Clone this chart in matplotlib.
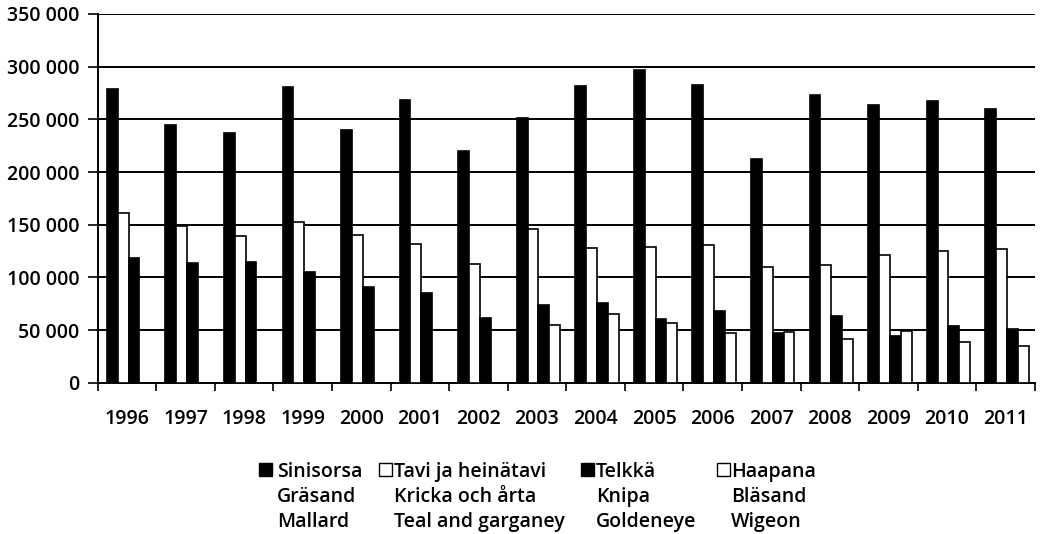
import matplotlib
matplotlib.use("Agg")
import matplotlib.pyplot as plt
import numpy as np
from matplotlib.patches import Rectangle
from matplotlib.ticker import FuncFormatter, MultipleLocator

years = ["1996", "1997", "1998", "1999", "2000", "2001", "2002", "2003",
         "2004", "2005", "2006", "2007", "2008", "2009", "2010", "2011"]
sinisorsa = [279000, 245000, 237000, 281000, 240000, 268000, 220000, 251000,
             282000, 297000, 283000, 212000, 273000, 264000, 267000, 260000]
tavi = [161000, 149000, 139000, 153000, 140000, 132000, 113000, 146000,
        128000, 129000, 131000, 110000, 112000, 121000, 125000, 127000]
telkka = [118000, 114000, 115000, 105000, 91000, 85000, 62000, 74000,
          76000, 61000, 68000, 47000, 63000, 44000, 54000, 51000]
haapana = [np.nan, np.nan, np.nan, np.nan, np.nan, np.nan, np.nan, 55000,
           65000, 57000, 47000, 48000, 42000, 49000, 39000, 35000]

series = [
    (["Sinisorsa", "Gräsand", "Mallard"], sinisorsa, "black"),
    (["Tavi ja heinätavi", "Kricka och årta", "Teal and garganey"], tavi, "white"),
    (["Telkkä", "Knipa", "Goldeneye"], telkka, "black"),
    (["Haapana", "Bläsand", "Wigeon"], haapana, "white"),
]

plt.rcParams['font.family'] = ['Open Sans', 'DejaVu Sans']
FS = 14

fig = plt.figure(figsize=(10.4, 5.34), dpi=100)
ax = fig.add_axes([0.094, 0.283, 0.901, 0.691])

x = np.arange(len(years))
bw = 0.185
start = -0.5 + 0.155
for k, (label, vals, color) in enumerate(series):
    ax.bar(x + start + k * bw, vals, width=bw, align='edge', color=color,
           edgecolor='black', linewidth=1.2, zorder=3, label=" / ".join(label))

ax.set_xlim(-0.5, len(years) - 0.5)
ax.set_ylim(0, 350000)
ax.yaxis.set_major_locator(MultipleLocator(50000))
ax.yaxis.set_major_formatter(FuncFormatter(lambda v, p: f"{int(v):,}".replace(",", " ")))
ax.grid(axis='y', color='black', linewidth=1.4, zorder=0)
ax.set_axisbelow(True)

ax.set_xticks(x)
ax.set_xticklabels(years)
ax.set_xticks(np.arange(-0.5, len(years)), minor=True)
ax.tick_params(axis='x', which='major', length=0, pad=19, labelsize=FS)
ax.tick_params(axis='x', which='minor', length=6, width=1.2, direction='out')
ax.tick_params(axis='y', length=7, width=1.2, pad=6, labelsize=FS)
for lab in ax.get_xticklabels() + ax.get_yticklabels():
    lab.set_fontweight('semibold')

for s in ['top', 'right']:
    ax.spines[s].set_visible(False)
for s in ['left', 'bottom']:
    ax.spines[s].set_linewidth(1.4)

# Legend (manual, marker aligned with the first line of each 3-line label)
W, H = 1040.0, 534.0
legend_cols = [(259, 277), (379, 394), (581, 596), (717, 731)]
baselines = [477, 502, 527]
for (mx, tx), (lines, vals, color) in zip(legend_cols, series):
    fig.patches.append(Rectangle((mx / W, 1 - 476 / H), 13 / W, 13 / H,
                                 transform=fig.transFigure, facecolor=color,
                                 edgecolor='black', linewidth=1.0))
    for line, b in zip(lines, baselines):
        fig.text(tx / W, 1 - b / H, line, ha='left', va='baseline',
                 fontsize=FS, fontweight='semibold')

fig.savefig("out.png", dpi=100)
